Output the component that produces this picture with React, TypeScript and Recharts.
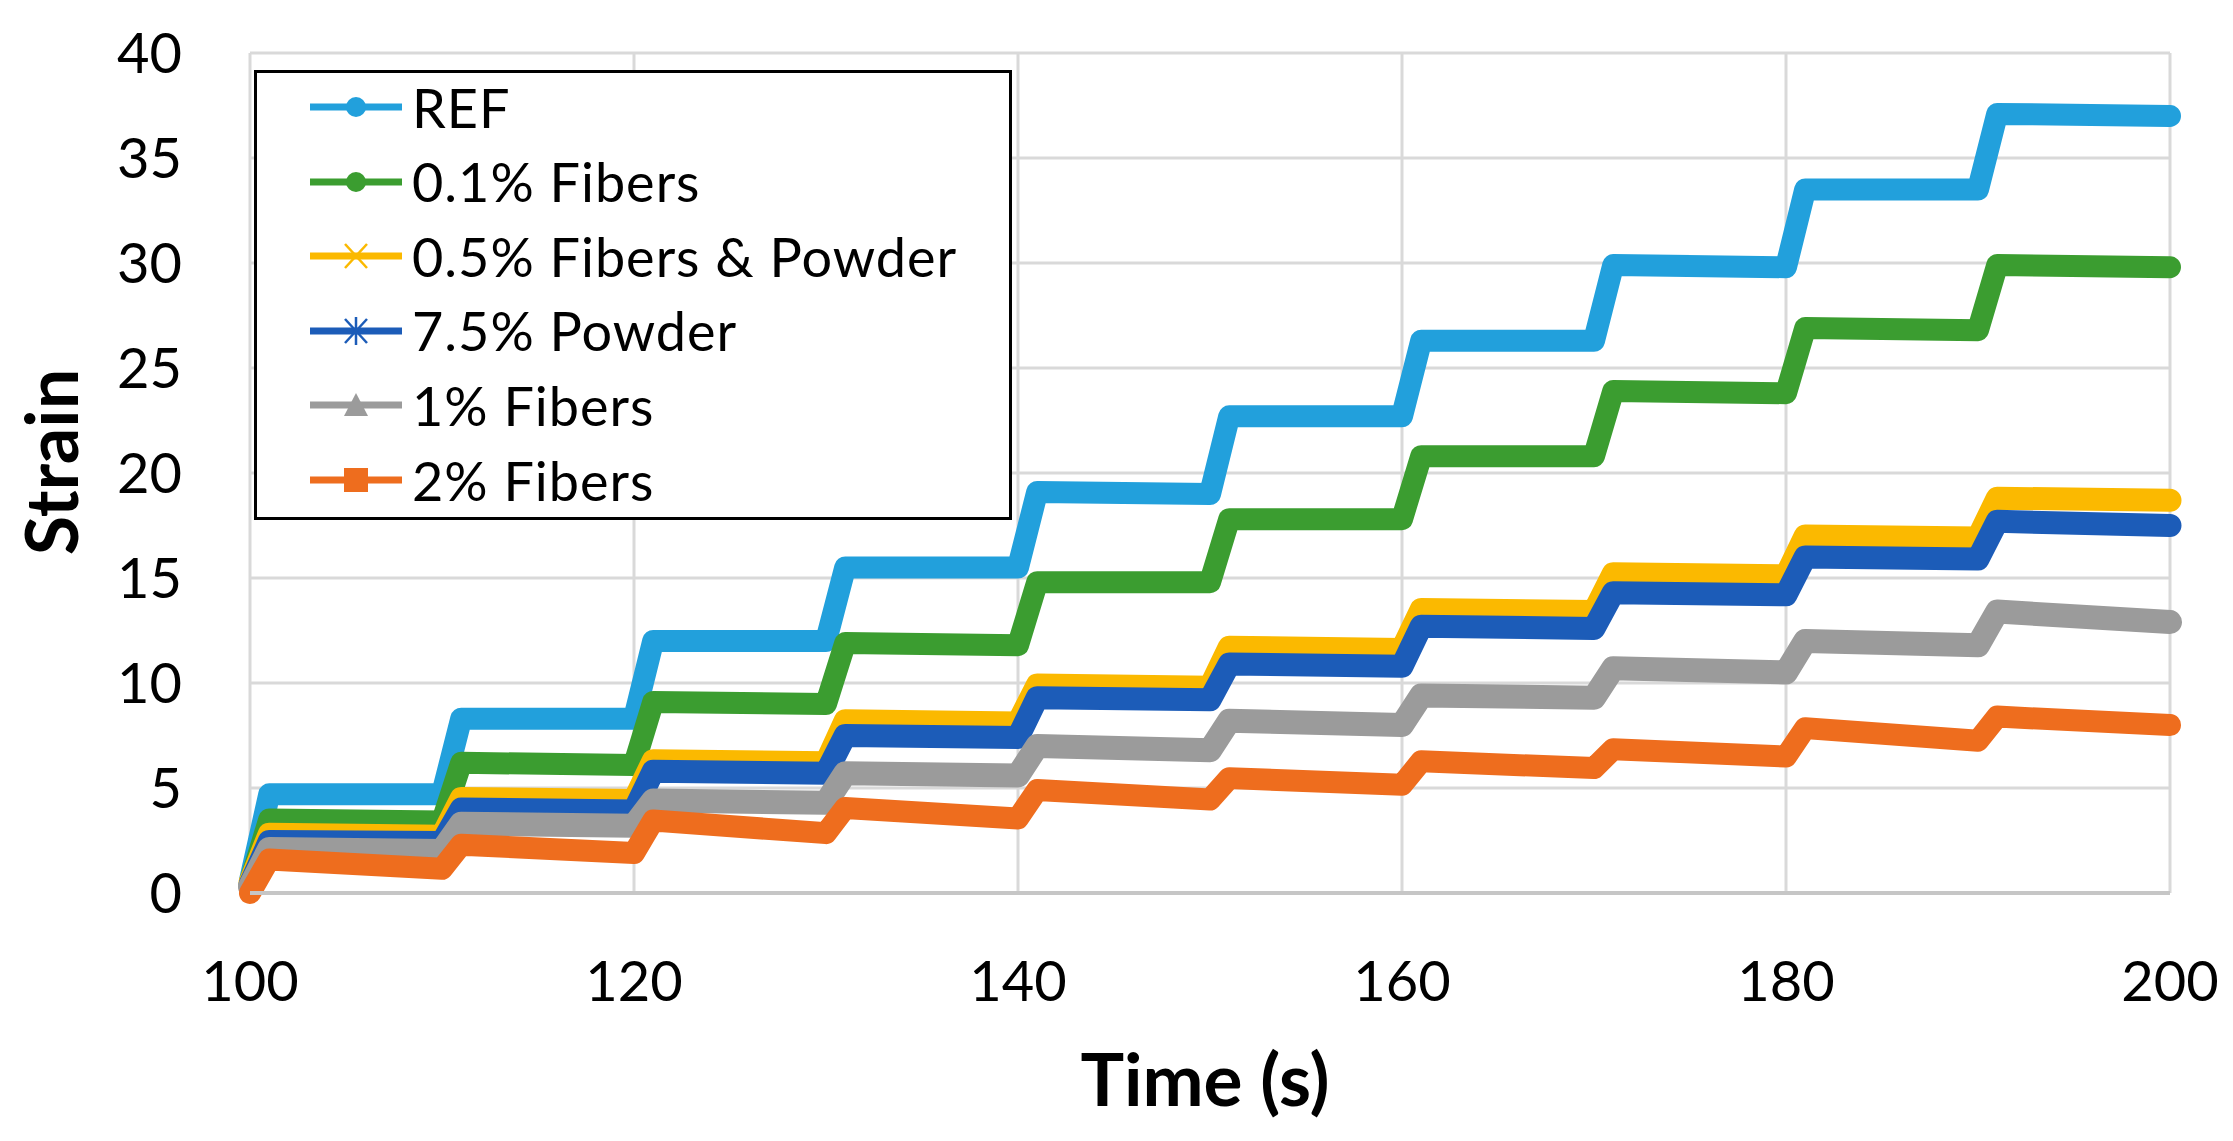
import { CartesianGrid, Legend, Line, LineChart, XAxis, YAxis } from 'recharts'

// time points: start of each load step and 1 s later, when the step is done
const TIME = [100, 101, 110, 111, 120, 121, 130, 131, 140, 141, 150, 151, 160, 161, 170, 171, 180, 181, 190, 191, 200]

const REF = [0.6, 4.7, 4.7, 8.3, 8.3, 12.0, 12.0, 15.5, 15.5, 19.1, 19.0, 22.7, 22.7, 26.3, 26.3, 29.9, 29.8, 33.5, 33.5, 37.1, 37.0]
const FIB_01 = [0.5, 3.5, 3.4, 6.2, 6.1, 9.1, 9.0, 11.9, 11.8, 14.8, 14.8, 17.8, 17.8, 20.8, 20.8, 23.9, 23.8, 26.9, 26.8, 29.9, 29.8]
const FIB_05_POW = [0.5, 2.8, 2.7, 4.5, 4.4, 6.3, 6.2, 8.2, 8.1, 9.9, 9.8, 11.7, 11.6, 13.5, 13.4, 15.2, 15.1, 17.0, 16.9, 18.8, 18.7]
const POW_75 = [0.4, 2.45, 2.4, 4.0, 3.9, 5.8, 5.7, 7.5, 7.4, 9.3, 9.2, 10.9, 10.8, 12.7, 12.6, 14.3, 14.2, 16.0, 15.9, 17.7, 17.5]
const FIB_1 = [0.3, 2.1, 2.0, 3.3, 3.2, 4.4, 4.3, 5.7, 5.6, 7.0, 6.8, 8.2, 8.0, 9.4, 9.3, 10.7, 10.5, 12.0, 11.8, 13.4, 12.9]
const FIB_2 = [0.0, 1.6, 1.15, 2.3, 1.9, 3.45, 2.85, 4.05, 3.55, 4.9, 4.45, 5.47, 5.15, 6.27, 5.95, 6.85, 6.5, 7.85, 7.25, 8.4, 8.0]

const X_TICKS = [100, 120, 140, 160, 180, 200]
const Y_TICKS = [0, 5, 10, 15, 20, 25, 30, 35, 40]

const SERIES = [
  { key: 'ref', name: 'REF', values: REF, color: '#22a0dc', marker: 'circle', width: 22 },
  { key: 'f01', name: '0.1% Fibers', values: FIB_01, color: '#3b9d30', marker: 'circle', width: 22 },
  { key: 'f05', name: '0.5% Fibers & Powder', values: FIB_05_POW, color: '#fbb900', marker: 'x', width: 23 },
  { key: 'p75', name: '7.5% Powder', values: POW_75, color: '#1c5cb8', marker: 'star', width: 23 },
  { key: 'f1', name: '1% Fibers', values: FIB_1, color: '#9b9b9b', marker: 'triangle', width: 24 },
  { key: 'f2', name: '2% Fibers', values: FIB_2, color: '#ee6d1e', marker: 'square', width: 22 },
]

const rows = TIME.map((t, i) => {
  const row: Record<string, number> = { t }
  for (const s of SERIES) row[s.key] = s.values[i]
  return row
})

const FONT = 'Lato, "DejaVu Sans", sans-serif'

function Marker({ kind, color }: { kind: string; color: string }) {
  const cx = 46
  if (kind === 'circle') return <circle cx={cx} cy={0} r={10} fill={color} />
  if (kind === 'square') return <rect x={cx - 12} y={-12} width={24} height={24} fill={color} />
  if (kind === 'triangle') return <polygon points={`${cx},-12 ${cx + 12},11 ${cx - 12},11`} fill={color} />
  const arms = (
    <>
      <line x1={cx - 11} y1={-12} x2={cx + 11} y2={12} stroke={color} strokeWidth={2.5} />
      <line x1={cx - 11} y1={12} x2={cx + 11} y2={-12} stroke={color} strokeWidth={2.5} />
    </>
  )
  if (kind === 'x') return arms
  return (
    <>
      {arms}
      <line x1={cx} y1={-14} x2={cx} y2={14} stroke={color} strokeWidth={2.5} />
    </>
  )
}

function LegendBox() {
  return (
    <div
      style={{
        width: 752,
        height: 444,
        border: '3px solid #000',
        background: '#fff',
        position: 'relative',
        fontFamily: FONT,
      }}
    >
      {SERIES.map((s, i) => (
        <div
          key={s.key}
          style={{
            position: 'absolute',
            left: 53,
            top: 34 + i * 74.6 - 30,
            height: 60,
            display: 'flex',
            alignItems: 'center',
          }}
        >
          <svg width={94} height={40} viewBox="0 -20 94 40" style={{ overflow: 'visible' }}>
            <line x1={0} y1={0} x2={92} y2={0} stroke={s.color} strokeWidth={7} />
            <Marker kind={s.marker} color={s.color} />
          </svg>
          <span style={{ fontSize: 54, letterSpacing: 1, marginLeft: 8, color: '#000', whiteSpace: 'nowrap' }}>
            {s.name}
          </span>
        </div>
      ))}
    </div>
  )
}

export default function App() {
  return (
    <div style={{ width: 2217, height: 1125, background: '#fff' }}>
      <LineChart
        width={2217}
        height={1125}
        data={rows}
        margin={{ top: 45, right: 55, left: 0, bottom: 0 }}
        style={{ overflow: 'visible' }}
      >
        <CartesianGrid stroke="#d9d9d9" strokeWidth={3} />
        <XAxis
          dataKey="t"
          type="number"
          domain={[100, 200]}
          ticks={X_TICKS}
          height={240}
          tickLine={false}
          tickSize={6}
          tickMargin={62}
          axisLine={{ stroke: '#c6c6c6', strokeWidth: 4 }}
          tick={{ fontSize: 56, fill: '#000', fontFamily: FONT }}
          label={() => (
            <text x={1197} y={1098} textAnchor="middle" fontSize={73} fontWeight="bold" fontFamily={FONT} fill="#000">
              Time (s)
            </text>
          )}
        />
        <YAxis
          type="number"
          domain={[0, 40]}
          ticks={Y_TICKS}
          width={242}
          tickLine={false}
          axisLine={false}
          tickSize={6}
          tickMargin={62}
          tick={{ fontSize: 56, fill: '#000', fontFamily: FONT }}
          label={() => (
            <text
              x={42}
              y={454}
              transform="rotate(-90 42 454)"
              textAnchor="middle"
              dominantBaseline="central"
              fontSize={72}
              fontWeight="bold"
              fontFamily={FONT}
              fill="#000"
            >
              Strain
            </text>
          )}
        />
        <Legend
          layout="horizontal"
          verticalAlign="middle"
          align="center"
          content={() => <LegendBox />}
          wrapperStyle={{ position: 'absolute', left: 246, top: 62, width: 758, height: 450 }}
        />
        {SERIES.map((s) => (
          <Line
            key={s.key}
            dataKey={s.key}
            name={s.name}
            type="linear"
            stroke={s.color}
            strokeWidth={s.width}
            strokeLinejoin="round"
            strokeLinecap="round"
            dot={false}
            activeDot={false}
            isAnimationActive={false}
          />
        ))}
      </LineChart>
    </div>
  )
}
